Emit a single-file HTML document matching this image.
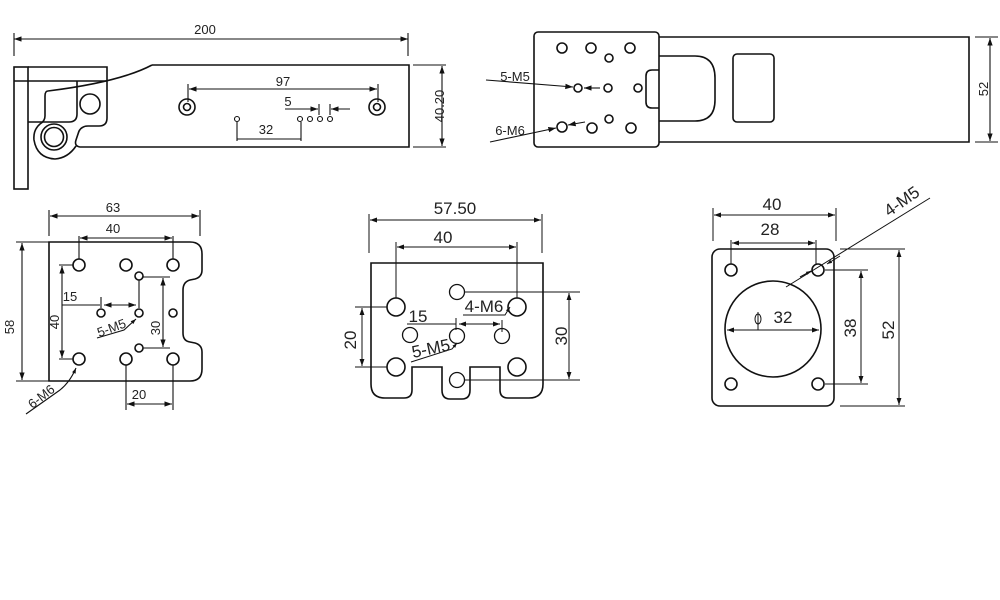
<!DOCTYPE html>
<html><head><meta charset="utf-8"><style>
html,body{margin:0;padding:0;background:#fff;width:1000px;height:600px;overflow:hidden}
svg{display:block}
text{font-family:"Liberation Sans",sans-serif;fill:#222}
</style></head><body>
<svg width="1000" height="600" viewBox="0 0 1000 600" xmlns="http://www.w3.org/2000/svg">
<defs>
<marker id="a" viewBox="0 0 10 10" refX="10" refY="5" markerWidth="7" markerHeight="7" orient="auto-start-reverse"><path d="M0,1.5 L10,5 L0,8.5z" fill="#111"/></marker>
<marker id="s" viewBox="0 0 10 10" refX="10" refY="5" markerWidth="5" markerHeight="5" orient="auto-start-reverse"><path d="M0,1.5 L10,5 L0,8.5z" fill="#111"/></marker>
</defs>
<g fill="none" stroke="#111" stroke-width="1.6">
<!-- VIEW 1 -->
<rect x="14" y="67" width="14" height="122"/>
<path d="M14,81 H107"/>
<path d="M28,67 H107 V118 Q107,126 99,126 H88 Q80,126 78,134 L76,140 Q74,146 80,147 H409 V65 H152"/>
<path d="M152,65 Q120,82 48,91"/>
<path d="M77,81 V114 Q77,122 69,122 H28"/>
<path d="M48,91 Q45,91 45,96 V116 Q45,121 40,124 Q33,130 34,140 Q37,158 55,159 Q68,158 76,146"/>
<circle cx="54" cy="137" r="13"/><circle cx="54" cy="137" r="9.5"/>
<circle cx="90" cy="104" r="10"/>
<circle cx="187" cy="107" r="8"/><circle cx="187" cy="107" r="3.5"/>
<circle cx="377" cy="107" r="8"/><circle cx="377" cy="107" r="3.5"/>
<g stroke-width="1.1"><circle cx="237" cy="119" r="2.5"/><circle cx="300" cy="119" r="2.5"/><circle cx="310" cy="119" r="2.5"/><circle cx="320" cy="119" r="2.5"/><circle cx="330" cy="119" r="2.5"/></g>
<g stroke-width="1.1">
<path d="M14,33 V56 M408,33 V56"/><path d="M14,39 H408" marker-start="url(#a)" marker-end="url(#a)"/>
<path d="M413,65 H446 M413,147 H446"/><path d="M442,66 V146" marker-start="url(#a)" marker-end="url(#a)"/>
<path d="M188,84 V102 M378,84 V102"/><path d="M189,89 H377" marker-start="url(#a)" marker-end="url(#a)"/>
<path d="M285,109 H318" marker-end="url(#a)"/><path d="M319,104 V115 M330,104 V115"/><path d="M350,109 H331" marker-end="url(#a)"/>
<path d="M237,122 V141 M301,122 V141 M237,139 H301"/>
</g>
<!-- VIEW 2 -->
<rect x="534" y="32" width="125" height="115" rx="4"/>
<path d="M659,37 H969 V142 H659"/>
<path d="M659,56 H695 Q715,56 715,78 V100 Q715,121 695,121 H659"/>
<path d="M659,70 H652 Q646,70 646,76 V102 Q646,108 652,108 H659"/>
<rect x="733" y="54" width="41" height="68" rx="4"/>
<circle cx="562" cy="48" r="5"/><circle cx="591" cy="48" r="5"/><circle cx="630" cy="48" r="5"/><circle cx="609" cy="58" r="4"/>
<circle cx="578" cy="88" r="4"/><circle cx="608" cy="88" r="4"/><circle cx="638" cy="88" r="4"/>
<circle cx="562" cy="127" r="5"/><circle cx="592" cy="128" r="5"/><circle cx="631" cy="128" r="5"/><circle cx="609" cy="119" r="4"/>
<g stroke-width="1.1">
<path d="M486,80 L573,87" marker-end="url(#a)"/><path d="M490,142 L556,128" marker-end="url(#a)"/>
<path d="M600,88 H584" marker-end="url(#a)"/><path d="M585,122 L568,125" marker-end="url(#a)"/>
<path d="M975,37 H998 M975,142 H998"/><path d="M990,38 V141" marker-start="url(#a)" marker-end="url(#a)"/>
</g>
<!-- VIEW 3 -->
<path d="M49,242 H190 Q202,242 202,254 V270 Q202,277 195,279 L190,280 Q183,282 183,290 V333 Q183,341 190,342 L195,343 Q202,345 202,352 V369 Q202,381 190,381 H49 Z"/>
<circle cx="79" cy="265" r="6"/><circle cx="126" cy="265" r="6"/><circle cx="173" cy="265" r="6"/>
<circle cx="79" cy="359" r="6"/><circle cx="126" cy="359" r="6"/><circle cx="173" cy="359" r="6"/>
<circle cx="139" cy="276" r="4"/><circle cx="101" cy="313" r="4"/><circle cx="139" cy="313" r="4"/><circle cx="173" cy="313" r="4"/><circle cx="139" cy="348" r="4"/>
<g stroke-width="1.1">
<path d="M49,210 V236 M200,210 V236"/><path d="M50,216 H199" marker-start="url(#a)" marker-end="url(#a)"/>
<path d="M79,236 V259 M173,236 V259"/><path d="M80,238 H172" marker-start="url(#a)" marker-end="url(#a)"/>
<path d="M16,242 H49 M16,381 H49"/><path d="M22,243 V380" marker-start="url(#a)" marker-end="url(#a)"/>
<path d="M59,265 H73 M59,359 H73"/><path d="M62,266 V358" marker-start="url(#a)" marker-end="url(#a)"/>
<path d="M62,305 H100 M101,297 V308"/><path d="M104,305 H136" marker-start="url(#a)" marker-end="url(#a)"/>
<path d="M139,280 V308"/>
<path d="M143,277 H170 M143,348 H170"/><path d="M163,278 V347" marker-start="url(#a)" marker-end="url(#a)"/>
<path d="M97,338 L124,330 L136,319" marker-end="url(#s)"/>
<path d="M26,414 L60,390 Q70,382 76,368" marker-end="url(#s)"/>
<path d="M126,365 V410 M173,365 V410"/><path d="M127,404 H172" marker-start="url(#a)" marker-end="url(#a)"/>
</g>
<!-- VIEW 4 -->
<path d="M371,263 H543 V384 Q543,398 529,398 H508 Q500,398 500,390 V367 H470 V390 Q470,399 462,399 H450 Q442,399 442,390 V367 H412 V390 Q412,398 404,398 H385 Q371,398 371,384 Z"/>
<circle cx="396" cy="307" r="9"/><circle cx="517" cy="307" r="9"/><circle cx="396" cy="367" r="9"/><circle cx="517" cy="367" r="9"/>
<g stroke-width="1.3"><circle cx="457" cy="292" r="7.5"/><circle cx="410" cy="335" r="7.5"/><circle cx="457" cy="336" r="7.5"/><circle cx="502" cy="336" r="7.5"/><circle cx="457" cy="380" r="7.5"/></g>
<g stroke-width="1">
<path d="M369,214 V253 M542,214 V253"/><path d="M370,220 H541" marker-start="url(#a)" marker-end="url(#a)"/>
<path d="M396,242 V298 M517,242 V298"/><path d="M397,247 H516" marker-start="url(#a)" marker-end="url(#a)"/>
<path d="M464,292 H580 M464,380 H580"/><path d="M569,293 V379" marker-start="url(#a)" marker-end="url(#a)"/>
<path d="M355,307 H387 M355,367 H387"/><path d="M362,308 V366" marker-start="url(#a)" marker-end="url(#a)"/>
<path d="M407,324 H456 M456,318 V330 M502,320 V332"/><path d="M459,324 H500" marker-start="url(#a)" marker-end="url(#a)"/>
<path d="M463,315 H505 L510,307" marker-end="url(#s)"/>
<path d="M411,362 L452,349 L457,343" marker-end="url(#s)"/>
</g>
<!-- VIEW 5 -->
<rect x="712" y="249" width="122" height="157" rx="8"/>
<circle cx="731" cy="270" r="6"/><circle cx="818" cy="270" r="6"/><circle cx="731" cy="384" r="6"/><circle cx="818" cy="384" r="6"/>
<circle cx="773" cy="329" r="48"/>
<g stroke-width="1">
<path d="M727,330 H819" marker-start="url(#a)" marker-end="url(#a)"/><path d="M758,312 V330"/>
<ellipse cx="758" cy="319" rx="3" ry="5"/>
<path d="M713,208 V241 M836,208 V241"/><path d="M714,215 H835" marker-start="url(#a)" marker-end="url(#a)"/>
<path d="M731,240 V264 M816,240 V264"/><path d="M732,243 H815" marker-start="url(#a)" marker-end="url(#a)"/>
<path d="M930,198 L786,287"/><path d="M800,277 L811,271" marker-end="url(#s)"/><path d="M840,256 L827,264" marker-end="url(#s)"/>
<path d="M825,270 H868 M825,384 H868"/><path d="M861,271 V383" marker-start="url(#a)" marker-end="url(#a)"/>
<path d="M840,249 H905 M840,406 H905"/><path d="M899,250 V405" marker-start="url(#a)" marker-end="url(#a)"/>
</g>
</g>
<!-- TEXT -->
<g font-size="13">
<text x="205" y="34" text-anchor="middle">200</text>
<text x="283" y="86" text-anchor="middle">97</text>
<text x="288" y="106" text-anchor="middle">5</text>
<text x="266" y="134" text-anchor="middle">32</text>
<text transform="translate(444,106) rotate(-90)" text-anchor="middle">40.20</text>
<text x="515" y="81" text-anchor="middle">5-M5</text>
<text x="510" y="135" text-anchor="middle">6-M6</text>
<text transform="translate(988,89) rotate(-90)" text-anchor="middle">52</text>
<text x="113" y="212" text-anchor="middle">63</text>
<text x="113" y="233" text-anchor="middle">40</text>
<text transform="translate(14,327) rotate(-90)" text-anchor="middle">58</text>
<text transform="translate(59,322) rotate(-90)" text-anchor="middle">40</text>
<text x="70" y="301" text-anchor="middle">15</text>
<text transform="translate(160,328) rotate(-90)" text-anchor="middle">30</text>
<text transform="translate(113,332) rotate(-20)" text-anchor="middle">5-M5</text>
<text transform="translate(44,400) rotate(-38)" text-anchor="middle">6-M6</text>
<text x="139" y="399" text-anchor="middle">20</text>
</g>
<g font-size="17">
<text x="455" y="214" text-anchor="middle">57.50</text>
<text x="443" y="243" text-anchor="middle">40</text>
<text x="418" y="322" text-anchor="middle">15</text>
<text x="484" y="312" text-anchor="middle">4-M6</text>
<text transform="translate(432,354) rotate(-12)" text-anchor="middle">5-M5</text>
<text transform="translate(567,336) rotate(-90)" text-anchor="middle">30</text>
<text transform="translate(356,340) rotate(-90)" text-anchor="middle">20</text>
<text x="772" y="210" text-anchor="middle">40</text>
<text x="770" y="235" text-anchor="middle">28</text>
<text x="783" y="323" text-anchor="middle">32</text>
<text transform="translate(905,206) rotate(-35)" text-anchor="middle">4-M5</text>
<text transform="translate(856,328) rotate(-90)" text-anchor="middle">38</text>
<text transform="translate(894,330) rotate(-90)" text-anchor="middle">52</text>
</g>
</svg>
</body></html>
